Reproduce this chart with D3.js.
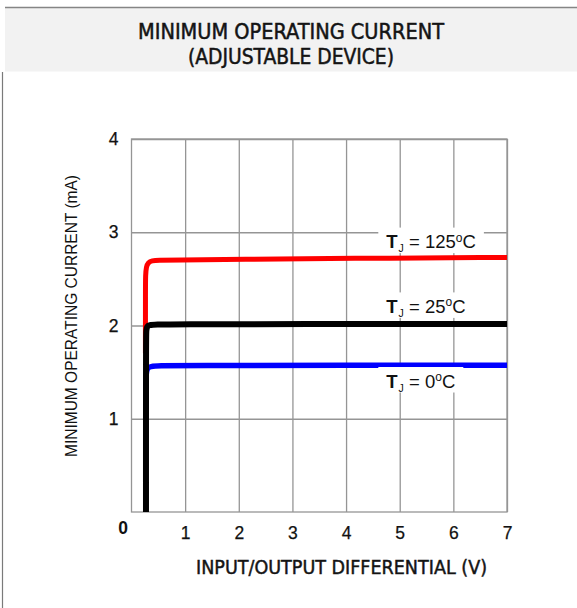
<!DOCTYPE html>
<html>
<head>
<meta charset="utf-8">
<script src="https://cdn.jsdelivr.net/npm/d3@7"></script>
<style>
  html, body { margin: 0; padding: 0; background: #fff; }
  svg { display: block; }
</style>
</head>
<body>
<svg id="chart" width="577" height="608"></svg>
<script>
// Input/output differential (V) and minimum operating current (mA) per junction temperature
const vinRed   = [0.26, 0.26, 0.262, 0.275, 0.31, 0.38, 0.5, 0.8, 2.0, 4.0, 7.0];
const iRed     = [1.70, 2.40, 2.54, 2.63, 2.675, 2.695, 2.70, 2.70, 2.71, 2.72, 2.73];
const vinBlack = [0.27, 0.27, 0.275, 0.29, 0.33, 0.45, 0.8, 3.0, 7.0];
const iBlack   = [0.00, 1.88, 1.95, 1.99, 2.005, 2.01, 2.015, 2.015, 2.015];
const vinBlue  = [0.27, 0.27, 0.28, 0.30, 0.35, 0.5, 1.0, 4.0, 7.0];
const iBlue    = [1.30, 1.45, 1.51, 1.545, 1.56, 1.57, 1.57, 1.575, 1.575];

const seriesNames  = ["125", "0", "25"];
const seriesColors = ["#ff0000", "#0000ff", "#000000"];
const seriesLabelI = [2.83, 1.335, 2.135];   // current level the label sits at (mA)

const xTicks = [1, 2, 3, 4, 5, 6, 7];
const yTicks = [1, 2, 3, 4];

const titleLines = ["MINIMUM OPERATING CURRENT", "(ADJUSTABLE DEVICE)"];
const xLabel = "INPUT/OUTPUT DIFFERENTIAL (V)";
const yLabel = "MINIMUM OPERATING CURRENT (mA)";

const svg = d3.select("#chart");

// header band
svg.append("rect").attr("x", 5).attr("y", 7).attr("width", 572).attr("height", 64.5)
  .attr("fill", "#f2f2f2");
svg.append("line").attr("x1", 5).attr("x2", 577).attr("y1", 7.5).attr("y2", 7.5)
  .attr("stroke", "#858585").attr("stroke-width", 1.5);
svg.append("line").attr("x1", 2.5).attr("x2", 2.5).attr("y1", 72).attr("y2", 608)
  .attr("stroke", "#7a7a7a").attr("stroke-width", 1.2);

const titleFont = "'DejaVu Sans Condensed', 'DejaVu Sans', sans-serif";
const sansFont = "'Liberation Sans', Arial, sans-serif";
const titleLens = [306, 206];
titleLines.forEach((t, i) => {
  svg.append("text")
    .attr("x", 291).attr("y", 38.5 + i * 25)
    .attr("text-anchor", "middle")
    .attr("font-family", titleFont).attr("font-size", 21.5)
    .attr("fill", "#141414").attr("stroke", "#141414").attr("stroke-width", 0.5)
    .attr("textLength", titleLens[i]).attr("lengthAdjust", "spacingAndGlyphs")
    .text(t);
});

// plot area
const x = d3.scaleLinear().domain([0, 7]).range([131.5, 507]);
const y = d3.scaleLinear().domain([0, 4]).range([512, 139]);
const gridColor = "#959595";

const gx = svg.append("g").attr("transform", `translate(0,${y(0)})`)
  .call(d3.axisBottom(x).tickValues(xTicks).tickSize(-(y(0) - y(4))).tickPadding(14.5)
    .tickFormat(d3.format("d")));
const gy = svg.append("g").attr("transform", `translate(${x(0)},0)`)
  .call(d3.axisLeft(y).tickValues(yTicks).tickSize(-(x(7) - x(0))).tickPadding(13)
    .tickFormat(d3.format("d")));
[gx, gy].forEach(g => {
  g.select(".domain").remove();
  g.selectAll(".tick line").attr("stroke", gridColor).attr("stroke-width", 1.3);
  g.selectAll(".tick text").attr("font-family", sansFont)
    .attr("font-size", 17.5).attr("fill", "#111")
    .attr("stroke", "#111").attr("stroke-width", 0.25);
});
svg.append("rect").attr("x", x(0)).attr("y", y(4))
  .attr("width", x(7) - x(0)).attr("height", y(0) - y(4))
  .attr("fill", "none").attr("stroke", gridColor).attr("stroke-width", 1.3);

// shared origin label
svg.append("text").attr("x", x(0) - 8.5).attr("y", 533.5).attr("text-anchor", "middle")
  .attr("font-family", sansFont).attr("font-size", 17.5)
  .attr("font-weight", "bold").attr("fill", "#111").text("0");

// axis titles
svg.append("text").attr("x", 341.5).attr("y", 574).attr("text-anchor", "middle")
  .attr("font-family", titleFont).attr("font-size", 19.5).attr("fill", "#141414")
  .attr("stroke", "#141414").attr("stroke-width", 0.45)
  .attr("textLength", 291).attr("lengthAdjust", "spacingAndGlyphs")
  .text(xLabel);
svg.append("text").attr("transform", "translate(77,316) rotate(-90)")
  .attr("text-anchor", "middle")
  .attr("font-family", sansFont).attr("font-size", 16)
  .attr("fill", "#111").attr("textLength", 282).attr("lengthAdjust", "spacingAndGlyphs")
  .text(yLabel);

// curves
const curveData = [
  d3.zip(vinRed, iRed),
  d3.zip(vinBlue, iBlue),
  d3.zip(vinBlack, iBlack)
];
const widths = [5, 5.5, 6];
const line = d3.line().x(d => x(d[0])).y(d => y(d[1])).curve(d3.curveBasis);
curveData.forEach((pts, i) => {
  svg.append("path").datum(pts).attr("d", line)
    .attr("fill", "none").attr("stroke", seriesColors[i])
    .attr("stroke-width", widths[i]).attr("stroke-linecap", "butt");
});

// temperature labels on white boxes
const labelX = x(4.75);
seriesNames.forEach((n, i) => {
  const g = svg.append("g");
  const bg = g.append("rect").attr("fill", "#fff");
  const t = g.append("text").attr("x", labelX).attr("y", y(seriesLabelI[i]))
    .attr("font-family", sansFont)
    .attr("font-size", 18.5).attr("fill", "#111");
  t.append("tspan").attr("font-weight", "bold").text("T");
  t.append("tspan").attr("font-size", 10.5).attr("dy", 4).attr("dx", 1).text("J");
  t.append("tspan").attr("dy", -4).text(" = " + n);
  t.append("tspan").attr("font-size", 12).attr("dy", -6.5).text("o");
  t.append("tspan").attr("dy", 6.5).text("C");
  const b = t.node().getBBox();
  bg.attr("x", b.x - 8).attr("y", b.y - 3).attr("width", b.width + 16).attr("height", b.height + 2);
});
</script>
</body>
</html>
